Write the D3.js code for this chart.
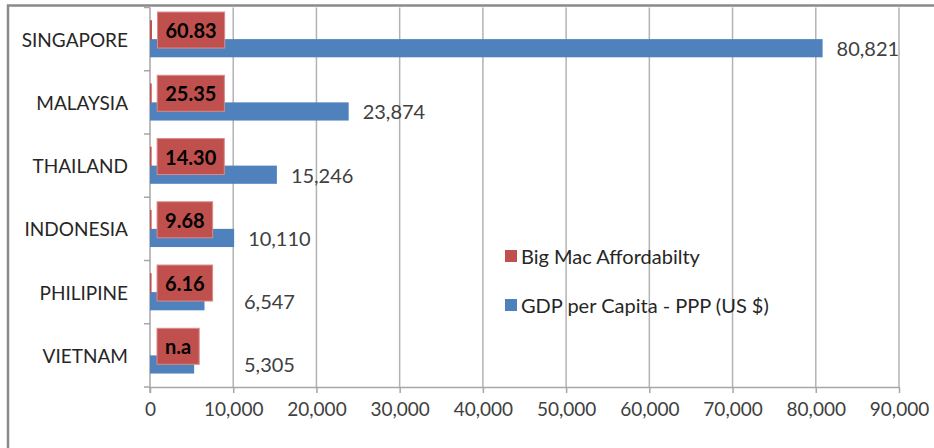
<!DOCTYPE html>
<html>
<head>
<meta charset="utf-8">
<script src="https://cdn.jsdelivr.net/npm/d3@7"></script>
<style>
  html, body { margin: 0; padding: 0; background: #fff; }
  svg { display: block; }
  text { font-family: Lato, "Open Sans", sans-serif; }
</style>
</head>
<body>
<svg id="chart" width="934" height="448"></svg>
<script>
// ---- data ----
const categories = ["SINGAPORE", "MALAYSIA", "THAILAND", "INDONESIA", "PHILIPINE", "VIETNAM"];
const gdpValues = [80821, 23874, 15246, 10110, 6547, 5305];
const bigMacValues = [60.83, 25.35, 14.30, 9.68, 6.16, null];
const bigMacLabels = ["60.83", "25.35", "14.30", "9.68", "6.16", "n.a"];
const xTickValues = [0, 10000, 20000, 30000, 40000, 50000, 60000, 70000, 80000, 90000];
const seriesNames = ["Big Mac Affordabilty", "GDP per Capita - PPP (US $)"];
const seriesKeys = ["bigmac", "gdp"];
const seriesColors = ["#C0504D", "#4F81BD"];

// ---- layout ----
const W = 934, H = 448;
const plot = { left: 150, right: 899, top: 7.5, bottom: 387 };
const svg = d3.select("#chart");

// chart area frame
svg.append("rect")
  .attr("x", 8).attr("y", 5.5)
  .attr("width", W + 20).attr("height", H + 20)
  .attr("fill", "#fff").attr("stroke", "#8a8a8a").attr("stroke-width", 2.5);

const x = d3.scaleLinear().domain([0, 90000]).range([plot.left, plot.right]);
const y = d3.scaleBand().domain(categories).range([plot.top, plot.bottom]).paddingInner(0).paddingOuter(0);
const ySub = d3.scaleBand().domain(seriesKeys).range([0, y.bandwidth()]).paddingInner(0).paddingOuter(0.74);

const rows = categories.map((c, i) => ({
  cat: c, gdp: gdpValues[i], bigmac: bigMacValues[i], bmLabel: bigMacLabels[i]
}));

// gridlines
svg.append("g").selectAll("line").data(xTickValues.slice(1)).join("line")
  .attr("x1", d => x(d)).attr("x2", d => x(d))
  .attr("y1", plot.top).attr("y2", plot.bottom)
  .attr("stroke", "#b3b3b3").attr("stroke-width", 1.5);

// x axis
const xAxis = svg.append("g")
  .attr("transform", `translate(0,${plot.bottom})`)
  .call(d3.axisBottom(x).tickValues(xTickValues).tickFormat(d3.format(",")).tickSizeInner(6).tickSizeOuter(0).tickPadding(10));
xAxis.select(".domain").attr("stroke", "#a6a6a6").attr("stroke-width", 1.5);
xAxis.selectAll(".tick line").attr("stroke", "#a6a6a6").attr("stroke-width", 1.5);
xAxis.selectAll(".tick text")
  .attr("font-family", "Lato, sans-serif").attr("font-size", 19).attr("fill", "#404040");

// y axis line + ticks at band boundaries
svg.append("line")
  .attr("x1", plot.left).attr("x2", plot.left)
  .attr("y1", plot.top).attr("y2", plot.bottom + 6)
  .attr("stroke", "#a6a6a6").attr("stroke-width", 1.5);
const boundaries = categories.map(c => y(c)).concat([plot.bottom]);
svg.append("g").selectAll("line").data(boundaries).join("line")
  .attr("x1", plot.left - 6).attr("x2", plot.left)
  .attr("y1", d => d).attr("y2", d => d)
  .attr("stroke", "#a6a6a6").attr("stroke-width", 1.5);

// category labels
svg.append("g").selectAll("text").data(categories).join("text")
  .attr("x", 128).attr("y", d => y(d) + y.bandwidth() / 2)
  .attr("text-anchor", "end").attr("dominant-baseline", "central")
  .attr("font-size", 19).attr("fill", "#262626")
  .text(d => d);

// GDP bars
svg.append("g").selectAll("rect").data(rows).join("rect")
  .attr("x", x(0))
  .attr("y", d => y(d.cat) + ySub("gdp"))
  .attr("width", d => x(d.gdp) - x(0))
  .attr("height", ySub.bandwidth())
  .attr("fill", seriesColors[1]);

// Big Mac bars (tiny on this scale)
svg.append("g").selectAll("rect").data(rows.filter(d => d.bigmac != null)).join("rect")
  .attr("x", x(0) + 0.75)
  .attr("y", d => y(d.cat) + ySub("bigmac"))
  .attr("width", d => Math.max(0, x(d.bigmac) - x(0)))
  .attr("height", ySub.bandwidth())
  .attr("fill", seriesColors[0])
  .attr("stroke", seriesColors[0]).attr("stroke-width", 1.5);

// GDP value labels
const fmt = d3.format(",");
svg.append("g").selectAll("text").data(rows).join("text")
  .attr("x", d => Math.max(x(d.gdp) + 14, 244))
  .attr("y", d => y(d.cat) + ySub("gdp") + ySub.bandwidth() / 2)
  .attr("dominant-baseline", "central")
  .attr("font-size", 20).attr("fill", "#404040")
  .text(d => fmt(d.gdp));

// Big Mac labels in red boxes
const bm = svg.append("g").selectAll("g").data(rows).join("g")
  .attr("transform", d => `translate(${x(d.bigmac || 0) + 7},${y(d.cat) + ySub("bigmac") + ySub.bandwidth() / 2})`);
bm.append("text")
  .attr("x", 8).attr("y", 0)
  .attr("dominant-baseline", "central")
  .attr("font-size", 20).attr("font-weight", "bold").attr("fill", "#000")
  .text(d => d.bmLabel)
  .each(function() {
    const w = this.getComputedTextLength();
    d3.select(this.parentNode).insert("rect", "text")
      .attr("x", 0).attr("y", -18)
      .attr("width", w + 16).attr("height", 36)
      .attr("fill", "#C0504D").attr("stroke", "#d78c8a").attr("stroke-width", 1);
  });

// legend
const legend = svg.append("g").selectAll("g").data(seriesNames).join("g")
  .attr("transform", (d, i) => `translate(505,${256 + i * 49})`);
legend.append("rect")
  .attr("x", 0).attr("y", -6).attr("width", 12).attr("height", 12)
  .attr("fill", (d, i) => seriesColors[i]);
legend.append("text")
  .attr("x", 16).attr("y", 0).attr("dominant-baseline", "central")
  .attr("font-size", 20).attr("fill", "#262626")
  .text(d => d);
</script>
</body>
</html>
